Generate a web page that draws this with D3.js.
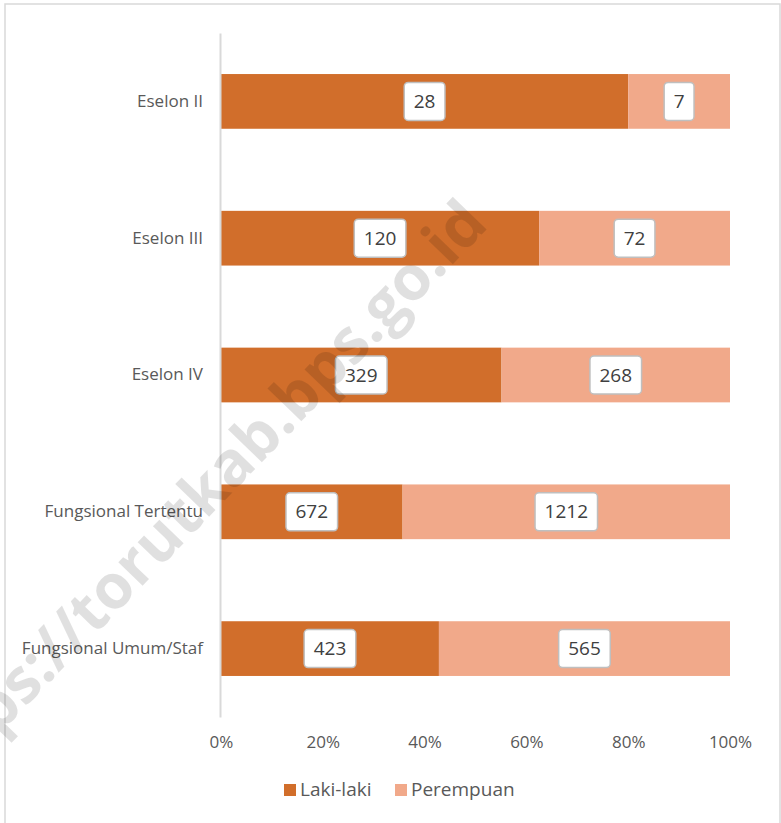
<!DOCTYPE html>
<html>
<head>
<meta charset="utf-8">
<script src="https://cdn.jsdelivr.net/npm/d3@7"></script>
<style>
  body { margin: 0; background: #fff; }
  svg { display: block; font-family: "Open Sans", sans-serif; }
</style>
</head>
<body>
<svg class="chart"></svg>
<script>
// data
var categories = ["Eselon II", "Eselon III", "Eselon IV", "Fungsional Tertentu", "Fungsional Umum/Staf"];
var lakiLaki = [28, 120, 329, 672, 423];
var perempuan = [7, 72, 268, 1212, 565];
var seriesNames = ["Laki-laki", "Perempuan"];
var tickValues = [0, 0.2, 0.4, 0.6, 0.8, 1];

var width = 781, height = 823;
var colors = ["#d16e2b", "#f1a98a"];

var svg = d3.select(".chart")
  .attr("width", width)
  .attr("height", height);

// outer frame
svg.append("rect")
  .attr("x", 5).attr("y", 4)
  .attr("width", 775).attr("height", 840)
  .attr("fill", "none")
  .attr("stroke", "#d9d9d9")
  .attr("stroke-width", 1.5);

var x = d3.scaleLinear().domain([0, 1]).range([221, 730]);
var y = d3.scaleBand().domain(categories).range([33, 717])
  .paddingInner(0.6).paddingOuter(0.3);

var rows = categories.map(function(c, i) {
  return { cat: c, laki: lakiLaki[i], perempuan: perempuan[i] };
});
var stack = d3.stack().keys(["laki", "perempuan"]).offset(d3.stackOffsetExpand);
var layers = stack(rows);

var groups = svg.append("g").selectAll("g")
  .data(layers)
  .enter().append("g")
  .attr("fill", function(d, i) { return colors[i]; });

groups.selectAll("rect")
  .data(function(d) { return d; })
  .enter().append("rect")
  .attr("x", function(d) { return x(d[0]); })
  .attr("width", function(d) { return x(d[1]) - x(d[0]); })
  .attr("y", function(d) { return y(d.data.cat); })
  .attr("height", y.bandwidth());

// y axis
var yAxis = svg.append("g")
  .attr("transform", "translate(220,0)")
  .call(d3.axisLeft(y).tickSize(0).tickSizeOuter(0).tickPadding(17));
yAxis.select(".domain").attr("stroke", "#d9d9d9").attr("stroke-width", 2);
yAxis.selectAll("text")
  .attr("fill", "#595959")
  .style("font-size", "17px")
  .style("font-family", "Open Sans, sans-serif");

// x axis
var xAxis = svg.append("g")
  .attr("transform", "translate(0,724)")
  .call(d3.axisBottom(x).tickValues(tickValues).tickFormat(d3.format(".0%")).tickSize(0).tickPadding(12));
xAxis.select(".domain").remove();
xAxis.selectAll("text")
  .attr("fill", "#595959")
  .style("font-size", "17px")
  .style("font-family", "Open Sans, sans-serif");

// data labels
var labels = svg.append("g");
layers.forEach(function(layer) {
  layer.forEach(function(d) {
    var cx = (x(d[0]) + x(d[1])) / 2;
    var cy = y(d.data.cat) + y.bandwidth() / 2;
    var val = d.data[layer.key];
    var g = labels.append("g").attr("transform", "translate(" + cx + "," + cy + ")");
    var box = g.append("rect");
    var t = g.append("text")
      .attr("text-anchor", "middle")
      .attr("dy", "0.35em")
      .attr("fill", "#404040")
      .style("font-size", "19px")
      .text(val);
    var w = t.node().getComputedTextLength() + 19;
    box.attr("x", -w / 2).attr("y", -19)
      .attr("width", w).attr("height", 38)
      .attr("rx", 4)
      .attr("fill", "#fff")
      .attr("stroke", "#bfbfbf")
      .attr("stroke-width", 1.5);
  });
});

// legend
var legend = svg.append("g").attr("transform", "translate(284,784)");
var legendX = [0, 111];
seriesNames.forEach(function(name, i) {
  var lg = legend.append("g").attr("transform", "translate(" + legendX[i] + ",0)");
  lg.append("rect").attr("width", 12).attr("height", 12).attr("fill", colors[i]);
  lg.append("text")
    .attr("x", 16).attr("y", 12)
    .attr("fill", "#595959")
    .style("font-size", "19px")
    .text(name);
});

// watermark
svg.append("text")
  .attr("transform", "translate(490,226) rotate(-46)")
  .attr("text-anchor", "end")
  .attr("fill", "#000")
  .attr("fill-opacity", 0.12)
  .style("font-size", "62px")
  .style("font-weight", "bold")
  .text("https://torutkab.bps.go.id");
</script>
</body>
</html>
